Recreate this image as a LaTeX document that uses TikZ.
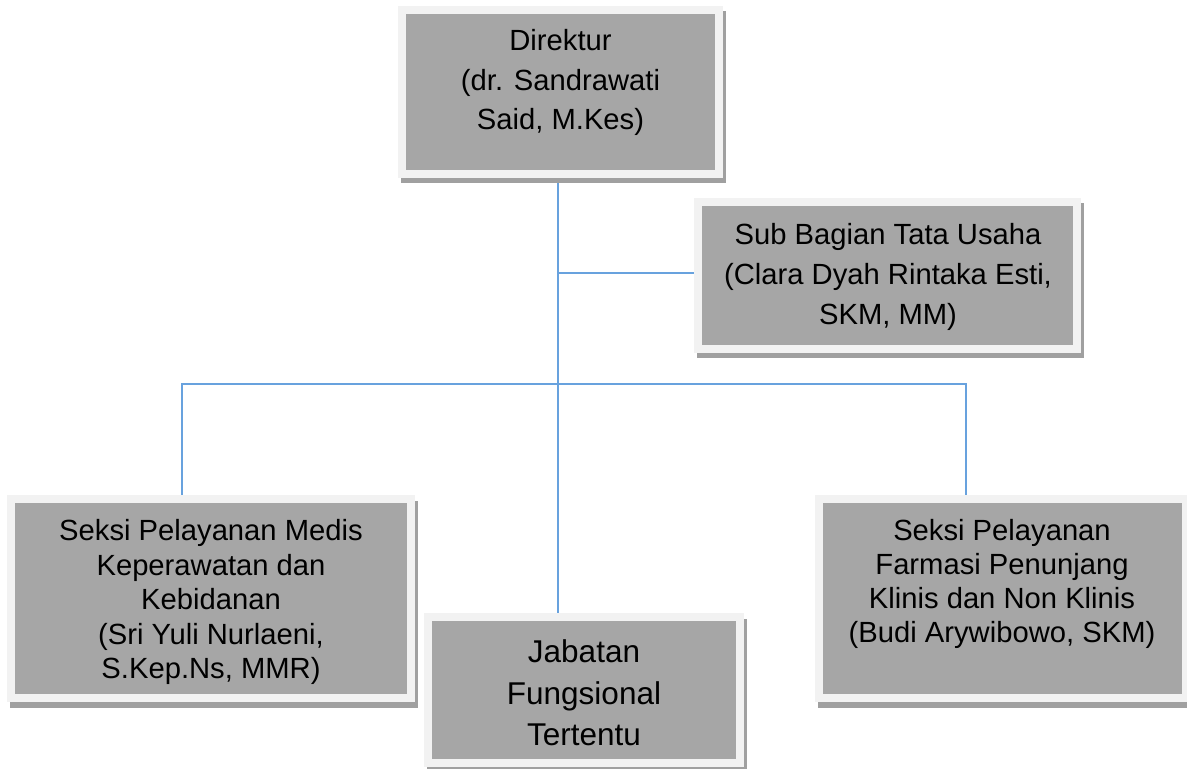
\documentclass[tikz,border=0pt]{standalone}
\usepackage{fontspec}
\setmainfont{Liberation Sans}
\usetikzlibrary{backgrounds}
\definecolor{boxgray}{RGB}{166,166,166}
\definecolor{rimgray}{RGB}{242,242,242}
\definecolor{shadowgray}{RGB}{160,160,160}
\definecolor{linkblue}{RGB}{104,162,222}
\tikzset{
  orgbox/.style={rectangle, fill=boxgray, draw=rimgray, line width=4pt, inner sep=0pt,
    preaction={draw=shadowgray, fill=shadowgray, line width=4pt,
      transform canvas={shift={(1.5pt,-2.75pt)}}}},
  orgtext/.style={anchor=north, align=center, inner sep=0pt, text=black},
  conn/.style={draw=linkblue, line width=1pt},
}
\begin{document}
\begin{tikzpicture}[x=0.5pt,y=-0.5pt]
\useasboundingbox (0,0) rectangle (1187,769);
% boxes
\node[orgbox, minimum width=158.5pt, minimum height=82pt] (dir) at (560.5,92) {};
\node[orgbox, minimum width=189.5pt, minimum height=73.5pt] (sub) at (887.5,275.5) {};
\node[orgbox, minimum width=200pt, minimum height=99.5pt] (left) at (211,598.5) {};
\node[orgbox, minimum width=156pt, minimum height=73pt] (jab) at (584,690) {};
\node[orgbox, minimum width=183.5pt, minimum height=99.5pt] (right) at (1002.5,598.5) {};
% texts
\node[orgtext, font=\fontsize{14.6}{19.75}\selectfont] (dirT) at (560.5,29)
  {Direktur\\(dr. Sandrawati\\Said, M.Kes)};
\node[orgtext, font=\fontsize{14.6}{20}\selectfont] (subT) at (888,223)
  {Sub Bagian Tata Usaha\\(Clara Dyah Rintaka Esti,\\SKM, MM)};
\node[orgtext, font=\fontsize{14.6}{17.25}\selectfont] (leftT) at (211,519)
  {Seksi Pelayanan Medis\\Keperawatan dan\\Kebidanan\\(Sri Yuli Nurlaeni,\\S.Kep.Ns, MMR)};
\node[orgtext, font=\fontsize{14.6}{17}\selectfont] (rightT) at (1002,519)
  {Seksi Pelayanan\\Farmasi Penunjang\\Klinis dan Non Klinis\\(Budi Arywibowo, SKM)};
\node[orgtext, font=\fontsize{15.75}{20.75}\selectfont] (jabT) at (584,639.5)
  {Jabatan\\Fungsional\\Tertentu};
% connector coordinates
\coordinate (t) at (558,0);
\coordinate (jt) at (558,273);
\coordinate (bl) at (182,384);
\coordinate (br) at (966,384);
\begin{pgfonlayer}{background}
\draw[conn] (dir.south -| t) -- (jab.north -| t);
\draw[conn] (jt) -- (jt -| sub.west);
\draw[conn] (left.north -| bl) -- (bl) -- (br) -- (right.north -| br);
\end{pgfonlayer}
\end{tikzpicture}
\end{document}
